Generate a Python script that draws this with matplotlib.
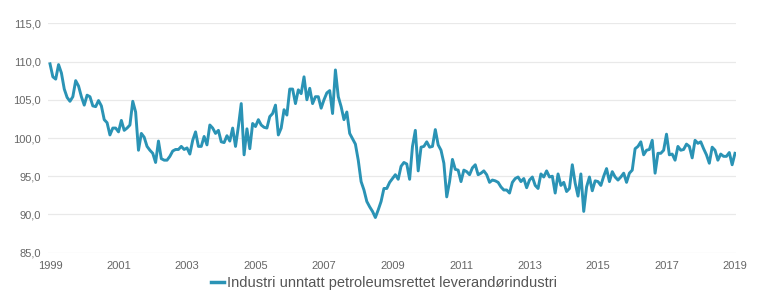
import numpy as np
import pandas as pd
import matplotlib
matplotlib.use("Agg")
import matplotlib.pyplot as plt
from matplotlib.ticker import FuncFormatter

series_name = "Industri unntatt petroleumsrettet leverandørindustri"
start = "1999-01"
values = [
    # 1999
    109.7, 108.0, 107.7, 109.6, 108.5, 106.4, 105.3, 104.8, 105.4, 107.5, 106.8, 105.4,
    # 2000
    104.3, 105.6, 105.4, 104.2, 104.1, 104.9, 104.2, 102.4, 102.0, 100.4, 101.3, 101.3,
    # 2001
    100.8, 102.3, 101.0, 101.3, 101.7, 104.8, 103.4, 98.4, 100.6, 100.1, 98.9, 98.4,
    # 2002
    98.0, 96.8, 99.6, 97.3, 97.1, 97.1, 97.6, 98.3, 98.5, 98.5, 98.9, 98.5,
    # 2003
    98.7, 97.9, 99.7, 100.8, 98.9, 98.9, 100.2, 99.1, 101.7, 101.3, 100.6, 101.0,
    # 2004
    99.5, 99.4, 100.3, 99.6, 101.3, 98.9, 101.5, 104.5, 97.8, 101.2, 98.6, 101.9,
    # 2005
    101.5, 102.4, 101.7, 101.4, 101.3, 102.8, 103.2, 104.3, 100.4, 101.3, 103.7, 103.0,
    # 2006
    106.4, 106.4, 104.5, 106.3, 105.8, 108.0, 105.0, 106.5, 104.5, 105.4, 105.4, 103.9,
    # 2007
    105.0, 105.9, 106.2, 103.2, 108.9, 105.4, 104.1, 102.4, 103.4, 100.6, 99.9, 99.2,
    # 2008
    97.1, 94.3, 93.2, 91.7, 91.0, 90.4, 89.6, 90.6, 91.7, 93.4, 93.4, 94.2,
    # 2009
    94.7, 95.2, 94.6, 96.3, 96.8, 96.6, 94.6, 98.9, 101.0, 95.7, 98.8, 98.9,
    # 2010
    99.5, 98.8, 98.9, 101.1, 99.1, 98.4, 96.7, 92.3, 94.3, 97.2, 95.9, 95.8,
    # 2011
    94.3, 95.8, 95.6, 95.2, 96.1, 96.5, 95.2, 95.4, 95.7, 95.2, 94.2, 94.5,
    # 2012
    94.4, 94.2, 93.6, 93.2, 93.2, 92.8, 94.2, 94.7, 94.9, 94.3, 94.7, 93.5,
    # 2013
    94.5, 94.9, 93.8, 93.4, 95.3, 94.9, 95.7, 94.9, 95.0, 92.8, 95.3, 93.8,
    # 2014
    94.2, 93.0, 93.4, 96.5, 94.1, 92.4, 95.3, 90.4, 93.6, 94.9, 93.1, 94.4,
    # 2015
    94.3, 93.8, 95.0, 96.0, 94.3, 95.6, 94.9, 94.5, 94.9, 95.4, 94.2, 95.4,
    # 2016
    95.8, 98.6, 98.9, 99.5, 97.8, 98.4, 98.5, 99.7, 95.4, 98.0, 98.0, 98.4,
    # 2017
    100.5, 97.8, 97.9, 97.1, 98.9, 98.4, 98.5, 99.2, 98.9, 97.4, 99.7, 99.3,
    # 2018
    99.5, 98.6, 97.8, 96.7, 98.8, 98.4, 97.1, 97.9, 97.6, 97.6, 98.1, 96.5,
    # 2019
    98.0,
]
y_ticks = [85, 90, 95, 100, 105, 110, 115]
x_tick_years = list(range(1999, 2020, 2))

dates = pd.period_range(start=start, periods=len(values), freq="M")
x = dates.year + (dates.month - 1) / 12.0

fig = plt.figure(figsize=(7.68, 3.03), dpi=100)
plt.rcParams['font.family'] = ['Liberation Sans', 'DejaVu Sans']
ax = fig.add_axes([48 / 768, 1 - 252.7 / 303, (736 - 48) / 768, (252.7 - 23.3) / 303])

line_color = "#2a93b5"
ax.plot(x, values, color=line_color, lw=2.1, solid_joinstyle="round", label=series_name, zorder=3)

ax.set_ylim(85, 115)
ax.set_xlim(1999 - 2 / 34.25, 2019 + 1 / 34.25)
ax.set_yticks(y_ticks)
ax.yaxis.set_major_formatter(FuncFormatter(lambda v, p: f"{v:.1f}".replace(".", ",")))
ax.set_xticks(x_tick_years)
ax.set_xticklabels([str(y) for y in x_tick_years])
ax.grid(axis="y", color="#e9e9e9", lw=0.9)
ax.grid(axis="x", visible=False)
for s in ax.spines.values():
    s.set_visible(False)
ax.tick_params(axis="both", length=0, labelsize=8, colors="#666666")
ax.tick_params(axis="y", pad=5)
ax.tick_params(axis="x", pad=6)

leg = fig.legend(loc="center", bbox_to_anchor=(0.5, 1 - 283 / 303), frameon=False,
                 fontsize=10.5, handlelength=0.9, handletextpad=0.25, labelcolor="#555555")
for h in leg.get_lines():
    h.set_linewidth(2.5)

fig.savefig("out.png", dpi=100, facecolor="white")
